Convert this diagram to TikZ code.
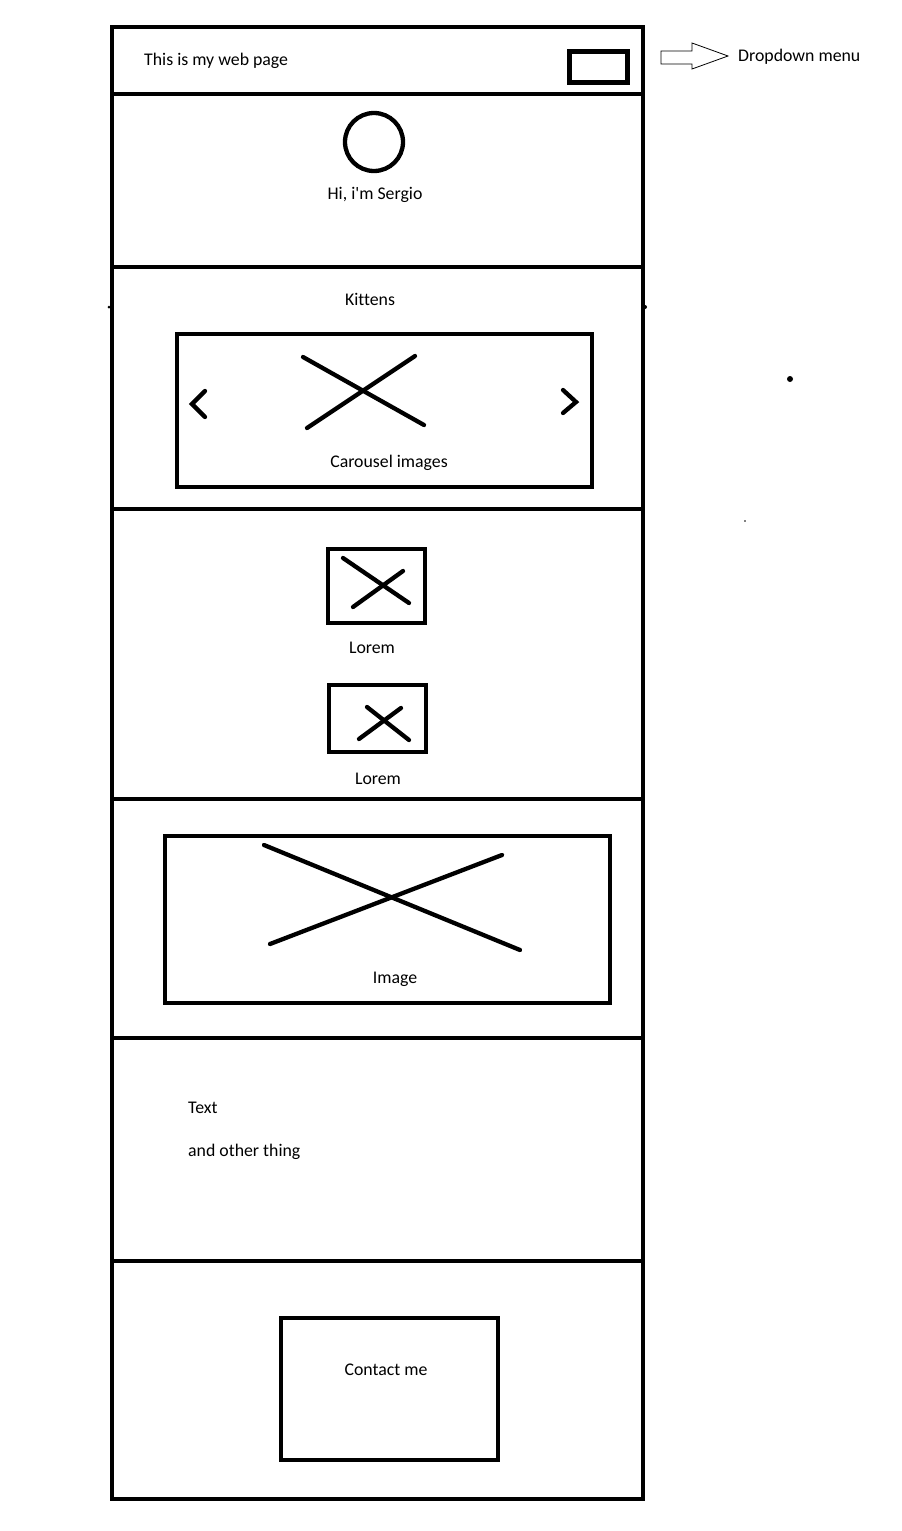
\documentclass[tikz,border=0pt]{standalone}
\usepackage{fontspec}
\setmainfont{Carlito}[Ligatures=NoCommon]
\usepackage{tikz}
\usetikzlibrary{positioning,calc}
\newcommand{\wftext}{\fontsize{17.8}{20}\selectfont}

\begin{document}
\begin{tikzpicture}[x=1pt,y=-1pt,
  frame/.style={line width=4.3pt},
  pic/.style={draw,line width=4.3pt,inner sep=0pt},
  cross/.style={line width=4.3pt,line cap=round},
  lbl/.style={font=\wftext,inner sep=0pt},
  chev/.style={line width=4.3pt,line cap=round,line join=miter}]
\useasboundingbox (0,0) rectangle (902,1531);
% page frame and sections
\draw[frame] (112,27) rectangle (643,1499);
\foreach \y in {94,267,509,799,1038,1261}
  \draw[frame] (112,\y) -- (643,\y);
% header
\node[lbl,anchor=west] (title) at (144,60.5) {This is my web page};
\node[pic,line width=5pt,minimum width=58pt,minimum height=31pt] (menu) at (598,67) {};
\draw[line width=0.8pt] (661,51) -- (692,51) -- (692,43) -- (728,56) -- (692,69) -- (692,64) -- (661,64) -- cycle;
\node[lbl,anchor=west] (dropdown) at (738,56.5) {Dropdown menu};
% intro
\node[pic,circle,minimum size=58pt] (avatar) at (374,142) {};
\node[lbl] (hi) at (375,194.5) {Hi, i\textquotesingle m Sergio};
% carousel
\node[lbl] (kittens) at (370,299.5) {Kittens};
\node[pic,minimum width=415pt,minimum height=153pt] (carousel) at (384.5,410.5) {};
\draw[cross] (307,428) -- (415,356);
\draw[cross] (303,357) -- (424,425);
\draw[chev] (205,391) -- (192,404) -- (205,417);
\draw[chev] (563,390) -- (576,402) -- (563,413);
\node[lbl] (carlbl) at (389,462.5) {Carousel images};
% lorem cards
\node[pic,minimum width=97pt,minimum height=74pt] (card1) at (376.5,586) {};
\draw[cross] (343,558) -- (409,603);
\draw[cross] (353,607) -- (403,571);
\node[lbl] (lorem1) at (372,647.5) {Lorem};
\node[pic,minimum width=97pt,minimum height=67pt] (card2) at (377.5,718.5) {};
\draw[cross] (367,707) -- (409,740);
\draw[cross] (359,739) -- (401,708);
\node[lbl] (lorem2) at (378,778.5) {Lorem};
% big image
\node[pic,minimum width=445pt,minimum height=167pt] (image) at (387.5,919.5) {};
\draw[cross] (264,845) -- (520,950);
\draw[cross] (270,944) -- (502,855);
\node[lbl] (imglbl) at (395,979.5) {Image};
% text
\node[lbl,anchor=west] (txt1) at (188,1107.5) {Text};
\node[lbl,anchor=west] (txt2) at (188,1151.5) {and other thing};
% contact
\node[pic,minimum width=217pt,minimum height=142pt] (contact) at (389.5,1389) {};
\node[lbl] (contactlbl) at (386,1369.5) {Contact me};
% stray dots
\fill (790,379) circle (3pt);
\fill (645,307) circle (2pt);
\fill (109,307) circle (1.5pt);
\fill (745,521) circle (0.8pt);
\end{tikzpicture}
\end{document}
